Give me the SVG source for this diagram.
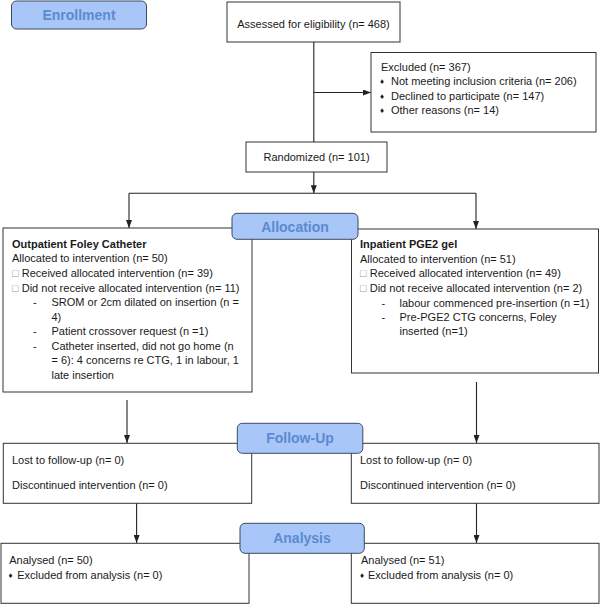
<svg xmlns="http://www.w3.org/2000/svg" width="600" height="604" viewBox="0 0 600 604">
<style>
text{font-family:"Liberation Sans",Arial,Helvetica,sans-serif;font-size:11px;fill:#1a1a1a}
.box{fill:#ffffff;stroke:#333333;stroke-width:1}
.lab{fill:#a8c6f7;stroke:#3d4a5e;stroke-width:1}
.labt{font-size:14px;font-weight:bold;fill:#5b8ad0;text-anchor:middle}
.b{font-weight:bold}
.ck{fill:#9a9a9a}
.dm{font-size:8px}
.con line{stroke:#222222;stroke-width:1.1}
.arr{marker-end:url(#ah)}
</style>
<defs>
<marker id="ah" markerWidth="8" markerHeight="6" refX="8" refY="3" orient="auto" markerUnits="userSpaceOnUse">
<path d="M0,0 L8,3 L0,6 z" fill="#222222"/>
</marker>
</defs>
<g class="con" id="connectors">
<line x1="313.8" y1="42" x2="313.8" y2="142"/>
<line class="arr" x1="313.8" y1="92.5" x2="371" y2="92.5"/>
<line class="arr" x1="313.8" y1="172" x2="313.8" y2="193.3"/>
<line x1="129" y1="193.3" x2="476" y2="193.3"/>
<line class="arr" x1="129" y1="193.3" x2="129" y2="228"/>
<line class="arr" x1="476" y1="193.3" x2="476" y2="229"/>
<line class="arr" x1="127" y1="400" x2="127" y2="443"/>
<line class="arr" x1="476.5" y1="382" x2="476.5" y2="443"/>
<line class="arr" x1="136.6" y1="503" x2="136.6" y2="543"/>
<line class="arr" x1="476.5" y1="503" x2="476.5" y2="543"/>
</g>
<g id="assessed">
<rect class="box" x="227" y="2" width="173" height="40"/>
<text x="313.5" y="28" text-anchor="middle">Assessed for eligibility (n= 468)</text>
</g>
<g id="excluded">
<rect class="box" x="371" y="52.5" width="225" height="79.5"/>
<text x="381" y="70.5">Excluded (n= 367)</text>
<text class="dm" x="380" y="84">♦</text><text x="391" y="85">Not meeting inclusion criteria (n= 206)</text>
<text class="dm" x="380" y="98.5">♦</text><text x="391" y="99.5">Declined to participate (n= 147)</text>
<text class="dm" x="380" y="113">♦</text><text x="391" y="114">Other reasons (n= 14)</text>
</g>
<g id="randomized">
<rect class="box" x="246" y="142" width="141" height="30"/>
<text x="316.5" y="161" text-anchor="middle">Randomized (n= 101)</text>
</g>
<g id="left-allocation">
<rect class="box" x="3" y="228" width="249" height="164"/>
<text class="b" x="12" y="247.7">Outpatient Foley Catheter</text>
<text x="12" y="262.3">Allocated to intervention (n= 50)</text>
<text x="12" y="277.3"><tspan class="ck">□</tspan> Received allocated intervention (n= 39)</text>
<text x="12" y="291.8"><tspan class="ck">□</tspan> Did not receive allocated intervention (n= 11)</text>
<text x="33" y="306.3">-</text><text x="51.5" y="306.3">SROM or 2cm dilated on insertion (n =</text>
<text x="51.5" y="320.8">4)</text>
<text x="33" y="335.3">-</text><text x="51.5" y="335.3">Patient crossover request (n =1)</text>
<text x="33" y="349.8">-</text><text x="51.5" y="349.8">Catheter inserted, did not go home (n</text>
<text x="51.5" y="364.3">= 6): 4 concerns re CTG, 1 in labour, 1</text>
<text x="51.5" y="378.8">late insertion</text>
</g>
<g id="right-allocation">
<rect class="box" x="351.5" y="229" width="247" height="144"/>
<text class="b" x="360" y="248.3">Inpatient PGE2 gel</text>
<text x="360" y="262.5">Allocated to intervention (n= 51)</text>
<text x="360" y="277.3"><tspan class="ck">□</tspan> Received allocated intervention (n= 49)</text>
<text x="360" y="291.8"><tspan class="ck">□</tspan> Did not receive allocated intervention (n= 2)</text>
<text x="381.5" y="306.5">-</text><text x="399.5" y="306.5">labour commenced pre-insertion (n =1)</text>
<text x="381.5" y="320.8">-</text><text x="399.5" y="320.8">Pre-PGE2 CTG concerns, Foley</text>
<text x="399.5" y="335.2">inserted (n=1)</text>
</g>
<g id="left-followup">
<rect class="box" x="3.3" y="443.3" width="248.4" height="60"/>
<text x="12" y="463.5">Lost to follow-up (n= 0)</text>
<text x="12" y="488.5">Discontinued intervention (n= 0)</text>
</g>
<g id="right-followup">
<rect class="box" x="351.3" y="443.3" width="247.7" height="60"/>
<text x="360" y="463.5">Lost to follow-up (n= 0)</text>
<text x="360" y="488.5">Discontinued intervention (n= 0)</text>
</g>
<g id="left-analysis">
<rect class="box" x="1" y="543.3" width="248" height="60"/>
<text x="9.2" y="563.5">Analysed (n= 50)</text>
<text class="dm" x="8.5" y="577.5">♦</text><text x="17.2" y="578.5">Excluded from analysis (n= 0)</text>
</g>
<g id="right-analysis">
<rect class="box" x="351.3" y="543.3" width="247.7" height="60"/>
<text x="361" y="563.5">Analysed (n= 51)</text>
<text class="dm" x="360" y="577.5">♦</text><text x="368" y="578.5">Excluded from analysis (n= 0)</text>
</g>
<g id="label-enrollment">
<rect class="lab" x="11.5" y="1" width="135" height="28" rx="5"/>
<text class="labt" x="79" y="20">Enrollment</text>
</g>
<g id="label-allocation">
<rect class="lab" x="232" y="213.3" width="126" height="26" rx="5"/>
<text class="labt" x="295" y="231.5">Allocation</text>
</g>
<g id="label-followup">
<rect class="lab" x="237.3" y="423.3" width="125.5" height="30" rx="5"/>
<text class="labt" x="300" y="443">Follow-Up</text>
</g>
<g id="label-analysis">
<rect class="lab" x="240" y="523.3" width="124.3" height="30" rx="5"/>
<text class="labt" x="302" y="543.3">Analysis</text>
</g>
</svg>
